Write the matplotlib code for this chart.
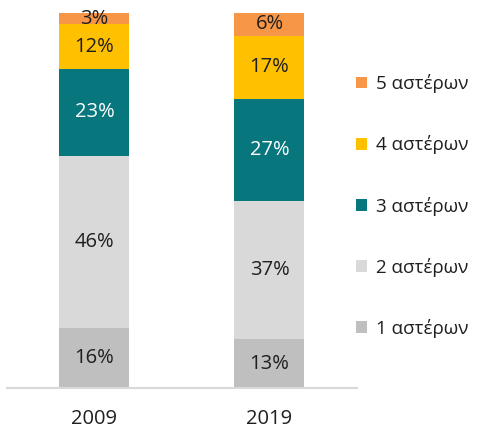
import numpy as np
import matplotlib.pyplot as plt

years = ['2009', '2019']
series = ['1 αστέρων', '2 αστέρων', '3 αστέρων', '4 αστέρων', '5 αστέρων']
values = {
    '1 αστέρων': [16, 13],
    '2 αστέρων': [46, 37],
    '3 αστέρων': [23, 27],
    '4 αστέρων': [12, 17],
    '5 αστέρων': [3, 6],
}
colors = ['#BFBFBF', '#D9D9D9', '#07767D', '#FFC000', '#F79646']
text_colors = ['#1f1f1f', '#1f1f1f', 'white', '#1f1f1f', '#1f1f1f']

plt.rcParams['font.family'] = ['Open Sans', 'DejaVu Sans']

fig = plt.figure(figsize=(4.82, 4.30), dpi=100)
ax = fig.add_axes([7 / 482, 42 / 430, 350 / 482, 375 / 430])

x = np.arange(len(years))
bottom = np.zeros(len(years))
handles = []
for name, col, tc in zip(series, colors, text_colors):
    v = np.array(values[name], dtype=float)
    bars = ax.bar(x, v, width=0.4, bottom=bottom, color=col, edgecolor='none', label=name)
    handles.append(bars)
    for xi, b, vi in zip(x, bottom, v):
        ax.text(xi, b + vi / 2, f'{int(vi)}%', ha='center', va='center',
                color=tc, fontsize=14.5)
    bottom += v

ax.set_xlim(-0.5, 1.5)
ax.set_ylim(0, 100)
ax.set_xticks(x)
ax.set_xticklabels(years, fontsize=14.5, color='#1f1f1f')
ax.tick_params(axis='x', length=0, pad=15)
ax.set_yticks([])
for s in ['left', 'right', 'top']:
    ax.spines[s].set_visible(False)
ax.spines['bottom'].set_color('#D9D9D9')
ax.spines['bottom'].set_linewidth(1.5)

leg = fig.legend(handles[::-1], series[::-1], loc='center left',
                 bbox_to_anchor=(356 / 482, 1 - 206 / 430), frameon=False,
                 fontsize=13.5, handlelength=0.6, handleheight=0.6,
                 handletextpad=0.45, labelspacing=2.25, borderpad=0,
                 borderaxespad=0)
for t in leg.get_texts():
    t.set_color('#1f1f1f')

fig.savefig('out.png', dpi=100)
